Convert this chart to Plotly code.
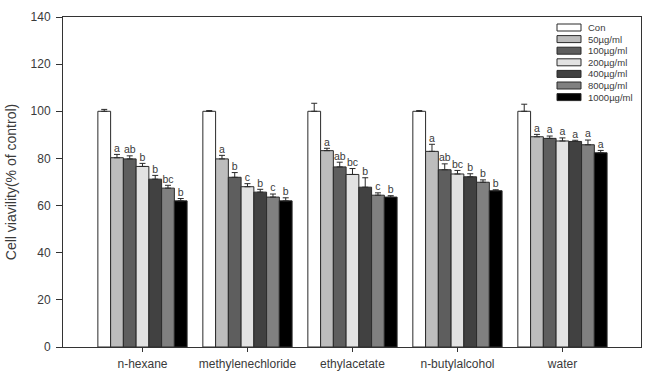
import plotly.graph_objects as go

categories = ["n-hexane", "methylenechloride", "ethylacetate", "n-butylalcohol", "water"]
series_names = ["Con", "50\u00b5g/ml", "100\u00b5g/ml", "200\u00b5g/ml", "400\u00b5g/ml", "800\u00b5g/ml", "1000\u00b5g/ml"]

# values per series (across the 5 solvents)
con_vals = [100.0, 100.0, 100.0, 100.0, 100.0]
v50 = [80.3, 79.8, 83.3, 83.0, 89.2]
v100 = [79.8, 72.0, 76.4, 75.2, 88.5]
v200 = [76.6, 68.0, 73.2, 73.4, 87.4]
v400 = [71.2, 65.7, 67.8, 72.2, 87.2]
v800 = [67.4, 63.6, 64.4, 69.9, 85.8]
v1000 = [62.0, 62.0, 63.6, 66.3, 82.4]

e_con = [0.8, 0.3, 3.4, 0.3, 3.0]
e50 = [1.4, 1.5, 1.0, 3.0, 1.0]
e100 = [1.3, 2.0, 2.0, 2.5, 1.0]
e200 = [1.3, 1.3, 2.5, 1.5, 1.3]
e400 = [1.6, 1.2, 4.0, 1.3, 0.5]
e800 = [1.2, 1.3, 1.0, 1.0, 2.0]
e1000 = [1.0, 1.3, 0.6, 0.4, 1.0]

l_con = ["", "", "", "", ""]
l50 = ["a", "a", "a", "a", "a"]
l100 = ["ab", "b", "ab", "ab", "a"]
l200 = ["b", "c", "bc", "bc", "a"]
l400 = ["b", "b", "b", "b", "a"]
l800 = ["bc", "c", "c", "b", "a"]
l1000 = ["b", "b", "b", "b", "a"]

y_ticks = [0, 20, 40, 60, 80, 100, 120, 140]

values = [con_vals, v50, v100, v200, v400, v800, v1000]
errors = [e_con, e50, e100, e200, e400, e800, e1000]
letters = [l_con, l50, l100, l200, l400, l800, l1000]
colors = ["#ffffff", "#bdbdbd", "#5e5e5e", "#e2e2e2", "#414141", "#808080", "#000000"]

FONT = "Liberation Sans, Arial, Helvetica"
n = len(series_names)
group_w = 0.85
w = group_w / n

fig = go.Figure()
for j in range(n):
    xs = [i + (j - (n - 1) / 2) * w for i in range(len(categories))]
    fig.add_trace(go.Bar(
        x=xs, y=values[j], width=w, name=series_names[j],
        marker=dict(color=colors[j], line=dict(color="#2a2a2a", width=1)),
        error_y=dict(type="data", array=errors[j], arrayminus=[0] * len(categories),
                     symmetric=False, color="#2a2a2a", thickness=1, width=3),
        showlegend=False,
    ))
    fig.add_trace(go.Scatter(
        x=xs, y=[v + e for v, e in zip(values[j], errors[j])],
        mode="text", text=letters[j], textposition="top center",
        textfont=dict(family=FONT, size=10.5, color="#3a3a3a"),
        showlegend=False, hoverinfo="skip",
    ))

# custom legend (rectangles + labels) in paper coordinates
fig_w, fig_h = 656, 375
ml, mr, mt, mb = 63, 15, 17, 28
pw = fig_w - ml - mr
ph = fig_h - mt - mb
def px_to_paper_x(px):
    return (px - ml) / pw
def px_to_paper_y(py):
    return 1 - (py - mt) / ph

shapes = []
annotations = []
for j in range(n):
    cy = 27.5 + j * 11.6
    shapes.append(dict(type="rect", xref="paper", yref="paper",
                       x0=px_to_paper_x(557), x1=px_to_paper_x(581),
                       y0=px_to_paper_y(cy + 3.5), y1=px_to_paper_y(cy - 3.5),
                       fillcolor=colors[j], line=dict(color="#2a2a2a", width=1)))
    annotations.append(dict(xref="paper", yref="paper", x=px_to_paper_x(586), y=px_to_paper_y(cy),
                            text=series_names[j], showarrow=False, xanchor="left", yanchor="middle",
                            font=dict(family=FONT, size=9.5, color="#3a3a3a")))

fig.update_layout(
    width=fig_w, height=fig_h,
    margin=dict(l=ml, r=mr, t=mt, b=mb, autoexpand=False),
    paper_bgcolor="white", plot_bgcolor="white",
    barmode="overlay",
    shapes=shapes, annotations=annotations,
    font=dict(family=FONT, size=12, color="#3a3a3a"),
    xaxis=dict(range=[-0.757, 4.748], tickvals=list(range(len(categories))), ticktext=categories,
               showgrid=False, zeroline=False, showline=True, linecolor="#333333", linewidth=1,
               mirror=True, ticks="outside", ticklen=4, tickcolor="#333333",
               tickfont=dict(size=12), ticklabelstandoff=2, automargin=False),
    yaxis=dict(range=[0, 140], tickvals=y_ticks, showgrid=False, zeroline=False,
               showline=True, linecolor="#333333", linewidth=1, mirror=True,
               ticks="outside", ticklen=6, tickcolor="#333333", tickfont=dict(size=12),
               ticklabelstandoff=3, automargin=False,
               title=dict(text="Cell viavility(% of control)", font=dict(size=14), standoff=10)),
)

fig.write_html("out.html")
